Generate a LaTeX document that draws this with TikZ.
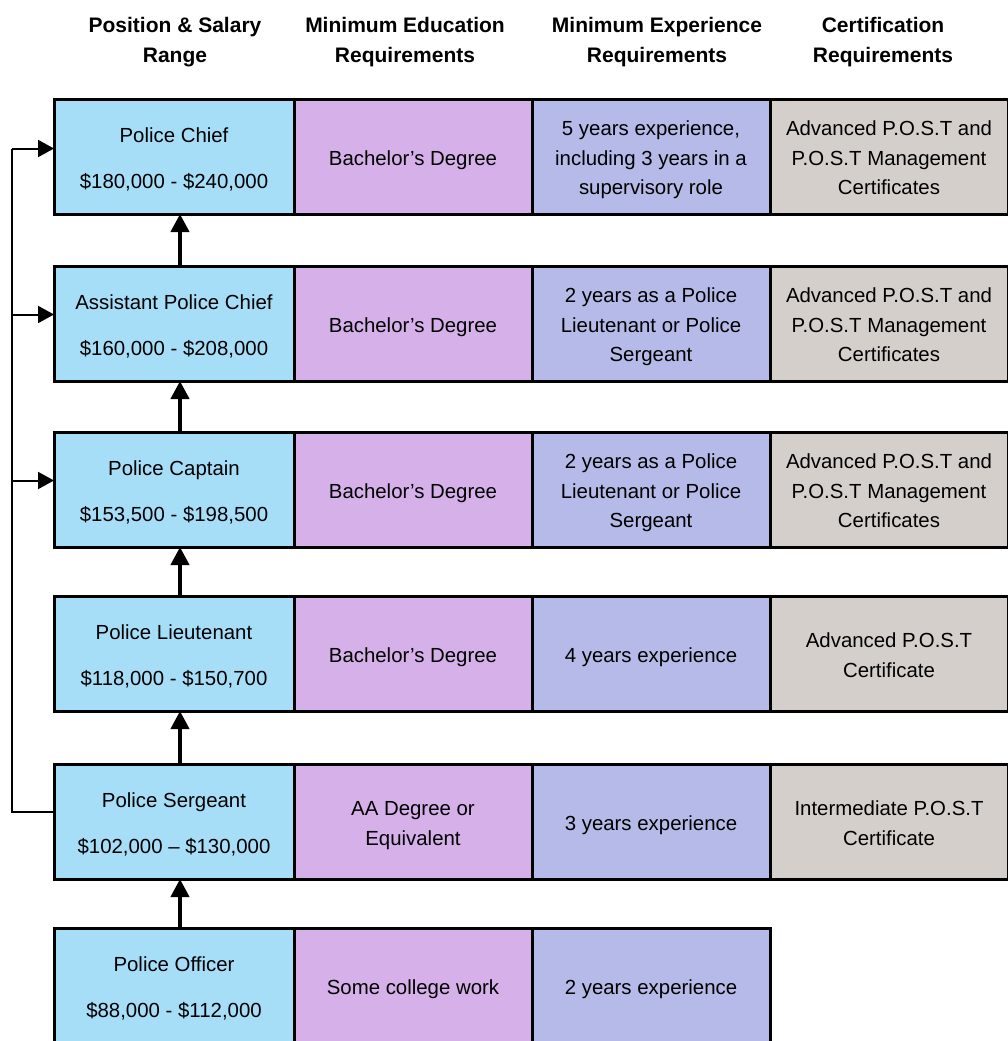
\documentclass[tikz,border=0pt]{standalone}
\usepackage{fontspec}
\setmainfont{Liberation Sans}
\usetikzlibrary{arrows.meta}

\definecolor{posblue}{RGB}{166,222,248}
\definecolor{edupurple}{RGB}{213,176,233}
\definecolor{explav}{RGB}{181,186,232}
\definecolor{certgray}{RGB}{213,207,204}

% text of a cell, a little below its middle
\newcommand{\celltext}[1]{\raisebox{-3pt}[\height][\depth]{\begin{tabular}{@{}c@{}}#1\end{tabular}}}

\begin{document}
\begin{tikzpicture}[
            x=1pt,
            y=-1pt,
            cell/.style={draw=black, line width=3pt, minimum width=238pt, minimum height=115pt,
                inner sep=0pt, outer sep=0pt, anchor=north west,
                font=\fontsize{20.4}{29.5}\selectfont},
            rankbox/.style={cell, fill=posblue, minimum width=240pt},
            edubox/.style={cell, fill=edupurple},
            expbox/.style={cell, fill=explav},
            certbox/.style={cell, fill=certgray},
            head/.style={align=center, font=\bfseries\fontsize{21}{30}\selectfont},
            promote/.style={line width=4pt, -{Triangle[length=18pt, width=18pt]}},
            rail/.style={line width=2pt},
            feed/.style={line width=2pt, -{Triangle[length=16pt, width=17pt]}}
        ]

        \useasboundingbox (0, 0) rectangle (1007, 1041);

        % column headings
        \node[head] (h1) at (175, 42) {Position \& Salary\\Range};
        \node[head] (h2) at (405, 42) {Minimum Education\\Requirements};
        \node[head] (h3) at (657, 42) {Minimum Experience\\Requirements};
        \node[head] (h4) at (883, 42) {Certification\\Requirements};

        % police chief
        \node[rankbox] (p1) at (54, 99) {\celltext{Police Chief\\[16pt]\$180,000 - \$240,000}};
        \node[edubox] (e1) at (294, 99) {\celltext{Bachelor’s Degree}};
        \node[expbox] (x1) at (532, 99) {\celltext{5 years experience,\\including 3 years in a\\supervisory role}};
        \node[certbox] (c1) at (770, 99) {\celltext{Advanced P.O.S.T and\\P.O.S.T Management\\Certificates}};

        % assistant police chief
        \node[rankbox] (p2) at (54, 266) {\celltext{Assistant Police Chief\\[16pt]\$160,000 - \$208,000}};
        \node[edubox] (e2) at (294, 266) {\celltext{Bachelor’s Degree}};
        \node[expbox] (x2) at (532, 266) {\celltext{2 years as a Police\\Lieutenant or Police\\Sergeant}};
        \node[certbox] (c2) at (770, 266) {\celltext{Advanced P.O.S.T and\\P.O.S.T Management\\Certificates}};

        % police captain
        \node[rankbox] (p3) at (54, 432) {\celltext{Police Captain\\[16pt]\$153,500 - \$198,500}};
        \node[edubox] (e3) at (294, 432) {\celltext{Bachelor’s Degree}};
        \node[expbox] (x3) at (532, 432) {\celltext{2 years as a Police\\Lieutenant or Police\\Sergeant}};
        \node[certbox] (c3) at (770, 432) {\celltext{Advanced P.O.S.T and\\P.O.S.T Management\\Certificates}};

        % police lieutenant
        \node[rankbox] (p4) at (54, 596) {\celltext{Police Lieutenant\\[16pt]\$118,000 - \$150,700}};
        \node[edubox] (e4) at (294, 596) {\celltext{Bachelor’s Degree}};
        \node[expbox] (x4) at (532, 596) {\celltext{4 years experience}};
        \node[certbox] (c4) at (770, 596) {\celltext{Advanced P.O.S.T\\Certificate}};

        % police sergeant
        \node[rankbox] (p5) at (54, 764) {\celltext{Police Sergeant\\[16pt]\$102,000 – \$130,000}};
        \node[edubox] (e5) at (294, 764) {\celltext{AA Degree or\\Equivalent}};
        \node[expbox] (x5) at (532, 764) {\celltext{3 years experience}};
        \node[certbox] (c5) at (770, 764) {\celltext{Intermediate P.O.S.T\\Certificate}};

        % police officer
        \node[rankbox] (p6) at (54, 928) {\celltext{Police Officer\\[16pt]\$88,000 - \$112,000}};
        \node[edubox] (e6) at (294, 928) {\celltext{Some college work}};
        \node[expbox] (x6) at (532, 928) {\celltext{2 years experience}};

        % promotion steps
        \draw[promote] ([xshift=6pt]p6.north) -- ([xshift=6pt]p5.south);
        \draw[promote] ([xshift=6pt]p5.north) -- ([xshift=6pt]p4.south);
        \draw[promote] ([xshift=6pt]p4.north) -- ([xshift=6pt]p3.south);
        \draw[promote] ([xshift=6pt]p3.north) -- ([xshift=6pt]p2.south);
        \draw[promote] ([xshift=6pt]p2.north) -- ([xshift=6pt]p1.south);

        % sergeant may go straight up
        \coordinate (side) at (12, 0);
        \coordinate (f1) at ([yshift=8pt]p1.west);
        \coordinate (f2) at ([yshift=9pt]p2.west);
        \coordinate (f3) at ([yshift=9pt]p3.west);
        \coordinate (f5) at ([yshift=10pt]p5.west);

        \draw[rail] (f5) -- (f5 -| side) -- (f1 -| side);
        \draw[feed] (f1 -| side) -- (f1);
        \draw[feed] (f2 -| side) -- (f2);
        \draw[feed] (f3 -| side) -- (f3);

        \end{tikzpicture}
\end{document}
